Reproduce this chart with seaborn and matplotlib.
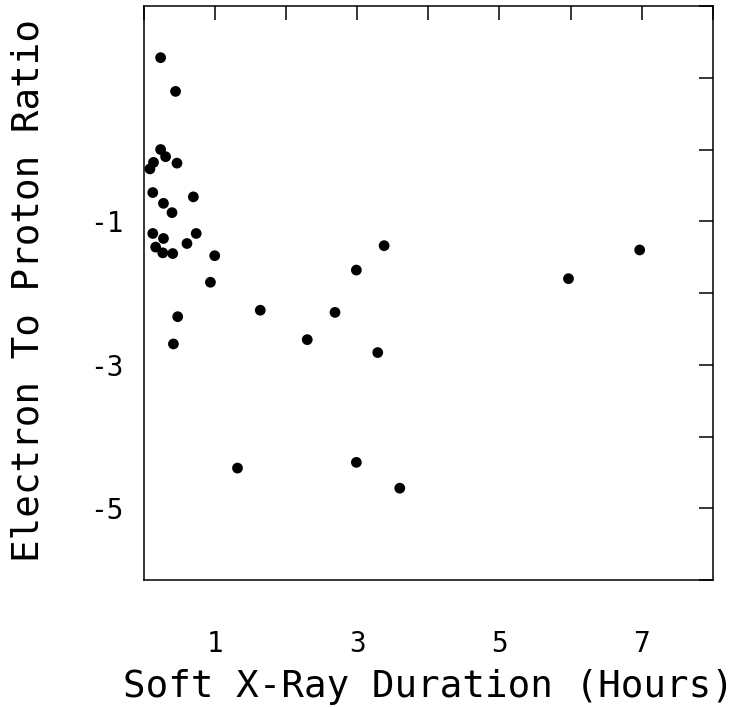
import numpy as np
import pandas as pd
import matplotlib
matplotlib.use("Agg")
import matplotlib.pyplot as plt
import seaborn as sns

# Soft X-ray duration (hours) vs electron/proton ratio
duration = [0.24, 0.45, 0.24, 0.31, 0.14, 0.47, 0.09, 0.13, 0.70, 0.28,
            0.40, 0.13, 0.74, 0.28, 0.61, 0.17, 0.27, 0.41, 1.00, 0.94,
            1.64, 0.48, 0.42, 3.38, 2.99, 6.97, 5.97, 2.69, 2.30, 3.29,
            1.32, 2.99, 3.60]
ratio = [1.28, 0.81, 0.00, -0.10, -0.18, -0.19, -0.27, -0.60, -0.66, -0.75,
         -0.88, -1.17, -1.17, -1.24, -1.31, -1.36, -1.44, -1.45, -1.48, -1.85,
         -2.24, -2.33, -2.71, -1.34, -1.68, -1.40, -1.80, -2.27, -2.65, -2.83,
         -4.44, -4.36, -4.72]

x_ticks = list(range(0, 9))
y_ticks = list(range(-6, 3))
x_labels = ["1", "3", "5", "7"]
y_labels = ["-1", "-3", "-5"]

sns.set_theme(style="white")
plt.rcParams.update({
    "font.family": ["DejaVu Sans Mono", "DejaVu Sans"],
    "axes.edgecolor": "black",
    "axes.linewidth": 1.1,
})

df = pd.DataFrame({"duration": duration, "ratio": ratio})

fig = plt.figure(figsize=(7.41, 7.07), dpi=100)
ax = fig.add_axes([0.1937, 0.1796, 0.7685, 0.8119])

sns.scatterplot(data=df, x="duration", y="ratio", ax=ax,
                color="black", s=60, edgecolor="none", legend=False)

ax.set_xlim(0, 8)
ax.set_ylim(-6, 2)
ax.set_xticks(x_ticks)
ax.set_yticks(y_ticks)
ax.set_xticklabels([str(t) if str(t) in x_labels else "" for t in x_ticks])
ax.set_yticklabels([str(t) if str(t) in y_labels else "" for t in y_ticks])

ax.tick_params(axis="both", which="major", direction="in", length=10,
               width=1.1, color="black", top=True, right=True,
               labelsize=20, labelcolor="black")
ax.tick_params(axis="x", pad=36)
ax.tick_params(axis="y", pad=14)

for s in ax.spines.values():
    s.set_visible(True)
    s.set_color("black")

ax.set_xlabel("Soft X-Ray Duration (Hours)", fontsize=27, color="black")
ax.set_ylabel("Electron To Proton Ratio", fontsize=27, color="black")
ax.xaxis.set_label_coords(0.50, -0.155)
ax.yaxis.set_label_coords(-0.17, 0.505)

fig.savefig("out.png", dpi=100, facecolor="white")
